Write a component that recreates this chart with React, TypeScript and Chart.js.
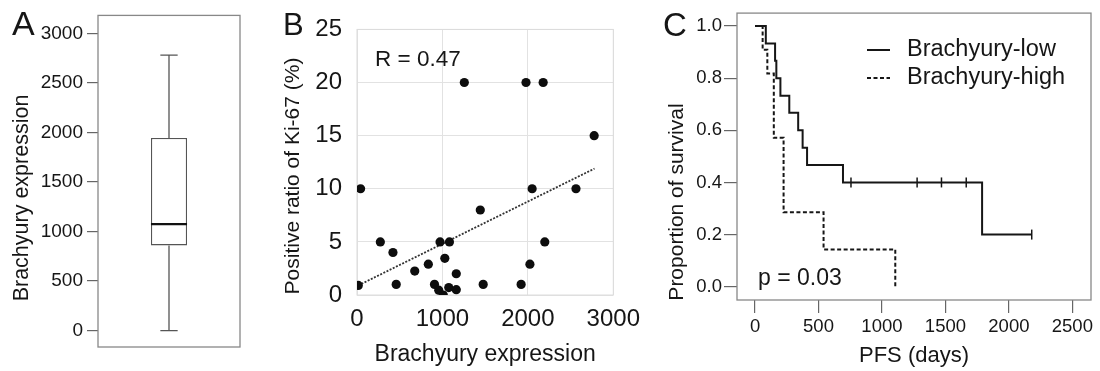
import React, { useEffect, useRef } from "react";
import { Chart, registerables } from "chart.js";

Chart.register(...registerables);

const FONT = '"Liberation Sans", Arial, Helvetica, sans-serif';
const INK = "#161616";

// ---------- Panel A: box plot of Brachyury expression ----------
const boxLabels = ["Brachyury"];
const boxMin = [0];
const boxQ1 = [860];
const boxMedian = [1075];
const boxQ3 = [1945];
const boxMax = [2780];
const boxTicks = [0, 500, 1000, 1500, 2000, 2500, 3000];

// ---------- Panel B: Brachyury vs Ki-67 ----------
const expressionValues = [15, 42, 273, 421, 459, 676, 835, 907, 957, 1010, 972, 1028, 1082, 1074, 1162, 1162, 1256, 1443, 1477, 1921, 1978, 2024, 2050, 2179, 2198, 2563, 2776];
const ki67Values = [0.9, 10, 5, 4, 1, 2.25, 2.9, 1, 0.45, 0, 5, 3.45, 5, 0.7, 2, 0.5, 20, 8, 1, 1, 20, 2.9, 10, 20, 5, 10, 15];
const trendX = [15, 2780];
const trendY = [0.9, 11.9];
const expressionTicks = [0, 1000, 2000, 3000];
const ki67Ticks = [0, 5, 10, 15, 20, 25];

// ---------- Panel C: Kaplan-Meier PFS ----------
const lowDays = [0, 85, 158, 168, 200, 270, 340, 375, 410, 693, 1789, 2180];
const lowSurvival = [1, 0.933, 0.867, 0.8, 0.733, 0.667, 0.6, 0.533, 0.467, 0.4, 0.2, 0.2];
const lowCensorDays = [756, 1277, 1469, 1664, 2180];
const lowCensorSurvival = [0.4, 0.4, 0.4, 0.4, 0.2];
const highDays = [0, 60, 97, 148, 225, 540, 1105];
const highSurvival = [1, 0.909, 0.818, 0.571, 0.286, 0.143, 0];
const pfsTicks = [0, 500, 1000, 1500, 2000, 2500];
const survivalTicks = [0, 0.2, 0.4, 0.6, 0.8, 1.0];
const legendLabels = ["Brachyury-low", "Brachyury-high"];

type TextItem = {
  text: string;
  x: number;
  y: number;
  size: number;
  rotate?: boolean;
  baseline?: CanvasTextBaseline;
  align?: CanvasTextAlign;
};

function textPlugin(items: TextItem[]) {
  return {
    id: "panelText",
    afterDraw(chart: any) {
      const ctx = chart.ctx as CanvasRenderingContext2D;
      items.forEach((it) => {
        ctx.save();
        ctx.font = `${it.size}px ${FONT}`;
        ctx.fillStyle = INK;
        ctx.textAlign = it.align || "left";
        ctx.textBaseline = it.baseline || "alphabetic";
        ctx.translate(it.x, it.y);
        if (it.rotate) ctx.rotate(-Math.PI / 2);
        ctx.fillText(it.text, 0, 0);
        ctx.restore();
      });
    },
  };
}

function framePlugin(color: string, width: number) {
  return {
    id: "frame",
    beforeDatasetsDraw(chart: any) {
      const { ctx, chartArea } = chart;
      const { left, top, right, bottom } = chartArea;
      ctx.save();
      ctx.strokeStyle = color;
      ctx.lineWidth = width;
      ctx.strokeRect(left, top, right - left, bottom - top);
      ctx.restore();
    },
  };
}

const boxPlugin = {
  id: "boxWhisker",
  afterDatasetsDraw(chart: any) {
    const meta = chart.getDatasetMeta(0);
    const y = chart.scales.y;
    const ctx = chart.ctx as CanvasRenderingContext2D;
    meta.data.forEach((bar: any, i: number) => {
      const { x, width } = bar.getProps(["x", "width"], true);
      const half = width / 2;
      const cap = width * 0.24;
      ctx.save();
      ctx.strokeStyle = "#555";
      ctx.lineWidth = 1.3;
      ctx.beginPath();
      ctx.moveTo(x, y.getPixelForValue(boxQ3[i]));
      ctx.lineTo(x, y.getPixelForValue(boxMax[i]));
      ctx.moveTo(x - cap, y.getPixelForValue(boxMax[i]));
      ctx.lineTo(x + cap, y.getPixelForValue(boxMax[i]));
      ctx.moveTo(x, y.getPixelForValue(boxQ1[i]));
      ctx.lineTo(x, y.getPixelForValue(boxMin[i]));
      ctx.moveTo(x - cap, y.getPixelForValue(boxMin[i]));
      ctx.lineTo(x + cap, y.getPixelForValue(boxMin[i]));
      ctx.stroke();
      ctx.strokeStyle = "#111";
      ctx.lineWidth = 2.2;
      ctx.beginPath();
      ctx.moveTo(x - half, y.getPixelForValue(boxMedian[i]));
      ctx.lineTo(x + half, y.getPixelForValue(boxMedian[i]));
      ctx.stroke();
      ctx.restore();
    });
  },
};

function legendPlugin(x0: number, x1: number, xText: number, ys: number[], size: number) {
  return {
    id: "kmLegend",
    afterDraw(chart: any) {
      const ctx = chart.ctx as CanvasRenderingContext2D;
      legendLabels.forEach((label, i) => {
        const ds = chart.data.datasets[i];
        ctx.save();
        ctx.strokeStyle = ds.borderColor;
        ctx.lineWidth = ds.borderWidth;
        ctx.setLineDash(ds.borderDash || []);
        ctx.beginPath();
        ctx.moveTo(x0, ys[i]);
        ctx.lineTo(x1, ys[i]);
        ctx.stroke();
        ctx.setLineDash([]);
        ctx.font = `${size}px ${FONT}`;
        ctx.fillStyle = INK;
        ctx.textBaseline = "middle";
        ctx.textAlign = "left";
        ctx.fillText(label, xText, ys[i]);
        ctx.restore();
      });
    },
  };
}

const setTicks = (values: number[]) => (scale: any) => {
  scale.ticks = values.map((v) => ({ value: v }));
};

export default function App() {
  const refA = useRef<HTMLCanvasElement>(null);
  const refB = useRef<HTMLCanvasElement>(null);
  const refC = useRef<HTMLCanvasElement>(null);

  useEffect(() => {
    Chart.defaults.font.family = FONT;
    Chart.defaults.color = INK;

    const chartA = new Chart(refA.current!, {
      type: "bar",
      data: {
        labels: boxLabels,
        datasets: [
          {
            data: boxQ1.map((q, i) => [q, boxQ3[i]]) as any,
            backgroundColor: "#ffffff",
            borderColor: "#555",
            borderWidth: 1.3,
            borderSkipped: false,
            barPercentage: 0.254,
            categoryPercentage: 1,
          },
        ],
      },
      options: {
        animation: false,
        responsive: false,
        devicePixelRatio: 1,
        events: [],
        layout: { padding: { left: 0, right: 10, top: 10, bottom: 24 } },
        plugins: { legend: { display: false }, tooltip: { enabled: false } },
        scales: {
          x: { display: false },
          y: {
            min: -166,
            max: 3182,
            afterFit: (s: any) => {
              s.width = 98;
            },
            afterBuildTicks: setTicks(boxTicks),
            ticks: { callback: (v: any) => String(v), font: { size: 19 }, color: INK, padding: 4 },
            grid: { drawOnChartArea: false, tickLength: 11, color: "#666", lineWidth: 1.2 },
            border: { display: false },
          },
        },
      },
      plugins: [
        framePlugin("#888", 1.3),
        boxPlugin,
        textPlugin([
          { text: "A", x: 12, y: 35, size: 34 },
          { text: "Brachyury expression", x: 22, y: 198, size: 21.5, rotate: true, baseline: "middle", align: "center" },
        ]),
      ],
    } as any);

    const chartB = new Chart(refB.current!, {
      type: "scatter",
      data: {
        datasets: [
          {
            data: expressionValues.map((x, i) => ({ x, y: ki67Values[i] })),
            backgroundColor: "#0d0d0d",
            borderWidth: 0,
            pointRadius: 4.6,
          },
          {
            data: trendX.map((x, i) => ({ x, y: trendY[i] })),
            showLine: true,
            borderColor: "#333",
            borderWidth: 1.8,
            borderDash: [2, 1.5],
            pointRadius: 0,
          },
        ],
      },
      options: {
        animation: false,
        responsive: false,
        devicePixelRatio: 1,
        events: [],
        layout: { padding: { left: 0, right: 30, top: 28, bottom: 0 } },
        plugins: { legend: { display: false }, tooltip: { enabled: false } },
        scales: {
          x: {
            type: "linear",
            min: 0,
            max: 3000,
            afterFit: (s: any) => {
              s.height = 76;
            },
            afterBuildTicks: setTicks(expressionTicks),
            ticks: { callback: (v: any) => String(v), font: { size: 24 }, color: INK, padding: 10 },
            grid: { color: "#e2e2e2", drawTicks: false },
            border: { display: false },
            title: { display: true, text: "Brachyury expression", font: { size: 23 }, color: INK, padding: { top: 0, bottom: 3 } },
          },
          y: {
            min: 0,
            max: 25,
            afterFit: (s: any) => {
              s.width = 107;
            },
            afterBuildTicks: setTicks(ki67Ticks),
            ticks: { callback: (v: any) => String(v), font: { size: 24 }, color: INK, padding: 15 },
            grid: { color: "#e2e2e2", drawTicks: false },
            border: { display: false },
          },
        },
      },
      plugins: [
        framePlugin("#dcdcdc", 1),
        textPlugin([
          { text: "B", x: 33, y: 35, size: 31 },
          { text: "R = 0.47", x: 125, y: 66, size: 22.5 },
          { text: "Positive ratio of Ki-67 (%)", x: 43, y: 176, size: 21, rotate: true, baseline: "middle", align: "center" },
        ]),
      ],
    } as any);

    const chartC = new Chart(refC.current!, {
      type: "scatter",
      data: {
        datasets: [
          {
            label: legendLabels[0],
            data: lowDays.map((x, i) => ({ x, y: lowSurvival[i] })),
            showLine: true,
            stepped: "before",
            borderColor: INK,
            borderWidth: 2,
            pointRadius: 0,
          },
          {
            label: legendLabels[1],
            data: highDays.map((x, i) => ({ x, y: highSurvival[i] })),
            showLine: true,
            stepped: "before",
            borderColor: INK,
            borderWidth: 2,
            borderDash: [4, 2.5],
            pointRadius: 0,
          },
          {
            label: "censored",
            data: lowCensorDays.map((x, i) => ({ x, y: lowCensorSurvival[i] })),
            showLine: false,
            pointStyle: "line",
            rotation: 90,
            pointRadius: 5,
            borderColor: INK,
            borderWidth: 1.5,
          },
        ],
      },
      options: {
        animation: false,
        responsive: false,
        devicePixelRatio: 1,
        events: [],
        layout: { padding: { left: 0, right: 9, top: 12, bottom: 0 } },
        plugins: { legend: { display: false }, tooltip: { enabled: false } },
        scales: {
          x: {
            type: "linear",
            min: -142,
            max: 2647,
            afterFit: (s: any) => {
              s.height = 71;
            },
            afterBuildTicks: setTicks(pfsTicks),
            ticks: { callback: (v: any) => String(v), font: { size: 18.5 }, color: INK, padding: 3 },
            grid: { drawOnChartArea: false, tickLength: 13, color: "#666", lineWidth: 1.2 },
            border: { display: false },
            title: { display: true, text: "PFS (days)", font: { size: 22 }, color: INK, padding: { top: 0, bottom: 2 } },
          },
          y: {
            min: -0.051,
            max: 1.0497,
            afterFit: (s: any) => {
              s.width = 87;
            },
            afterBuildTicks: setTicks(survivalTicks),
            ticks: { callback: (v: any) => Number(v).toFixed(1), font: { size: 18.5 }, color: INK, padding: 2 },
            grid: { drawOnChartArea: false, tickLength: 13, color: "#666", lineWidth: 1.2 },
            border: { display: false },
          },
        },
      },
      plugins: [
        framePlugin("#888", 1.3),
        legendPlugin(217, 240, 257, [50, 78], 23.5),
        textPlugin([
          { text: "C", x: 13, y: 36, size: 33 },
          { text: "p = 0.03", x: 108, y: 285, size: 23 },
          { text: "Proportion of survival", x: 27, y: 202, size: 21, rotate: true, baseline: "middle", align: "center" },
        ]),
      ],
    } as any);

    return () => {
      chartA.destroy();
      chartB.destroy();
      chartC.destroy();
    };
  }, []);

  const canvasStyle = (left: number, width: number): React.CSSProperties => ({
    position: "absolute",
    left,
    top: 0,
    width,
    height: 371,
  });

  return (
    <div style={{ position: "fixed", left: 0, top: 0, width: 1100, height: 371, background: "#fff", overflow: "hidden" }}>
      <canvas ref={refA} width={250} height={371} style={canvasStyle(0, 250)} />
      <canvas ref={refB} width={400} height={371} style={canvasStyle(250, 400)} />
      <canvas ref={refC} width={450} height={371} style={canvasStyle(650, 450)} />
    </div>
  );
}
